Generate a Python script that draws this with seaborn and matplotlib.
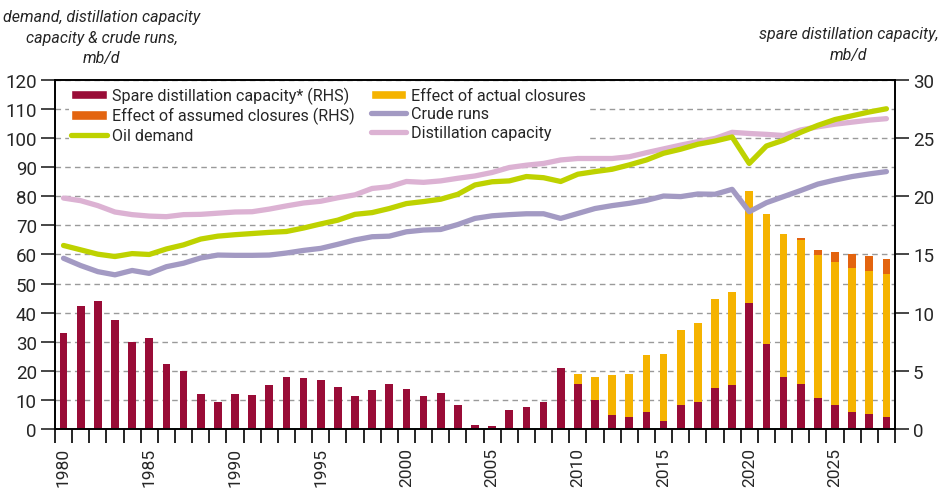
import numpy as np
import pandas as pd
import matplotlib
matplotlib.use("Agg")
import matplotlib.pyplot as plt
from matplotlib.patches import Patch
from matplotlib.lines import Line2D
import seaborn as sns

# ---- data -------------------------------------------------------------
years = list(range(1980, 2029))

# spare distillation capacity, mb/d (right-hand scale)
spare = [8.25, 10.6, 11.0, 9.35, 7.5, 7.85, 5.6, 5.0, 3.0, 2.35,
         3.0, 2.95, 3.75, 4.45, 4.4, 4.2, 3.64, 2.84, 3.35, 3.87,
         3.44, 2.87, 3.1, 2.06, 0.37, 0.26, 1.6, 1.9, 2.3, 5.2,
         3.84, 2.48, 1.24, 1.07, 1.44, 0.72, 2.05, 2.31, 3.49, 3.78,
         10.85, 7.33, 4.47, 3.9, 2.66, 2.05, 1.5, 1.3, 1.04]

# effect of actual closures, mb/d (stacked on spare capacity)
actual_closures = [0.0] * 30 + [
    0.86, 1.96, 3.38, 3.63, 4.94, 5.69, 6.43, 6.84, 7.68, 7.99,
    9.58, 11.14, 12.33, 12.32, 12.29, 12.29, 12.32, 12.32, 12.32]

# effect of assumed closures, mb/d (stacked on top)
assumed_closures = [0.0] * 43 + [0.23, 0.46, 0.84, 1.18, 1.21, 1.21]

# mb/d (left-hand scale)
oil_demand = [63.1, 61.6, 60.1, 59.3, 60.3, 60.0, 61.9, 63.3, 65.3, 66.3,
              66.8, 67.2, 67.6, 67.9, 69.1, 70.5, 71.8, 73.8, 74.4, 75.8,
              77.5, 78.2, 79.0, 80.7, 83.9, 85.0, 85.3, 86.8, 86.4, 85.1,
              87.6, 88.5, 89.3, 90.8, 92.5, 94.8, 96.2, 97.9, 99.0, 100.4,
              91.3, 97.3, 99.3, 102.0, 104.4, 106.4, 107.7, 109.0, 110.1]

crude_runs = [58.7, 56.2, 54.1, 53.0, 54.5, 53.5, 55.8, 57.0, 58.8, 59.8,
              59.7, 59.7, 59.8, 60.5, 61.4, 62.1, 63.5, 65.0, 66.1, 66.3,
              67.8, 68.4, 68.6, 70.3, 72.4, 73.3, 73.7, 74.0, 74.0, 72.4,
              74.1, 75.8, 76.8, 77.6, 78.6, 80.1, 79.9, 80.8, 80.7, 82.4,
              74.7, 77.8, 79.9, 82.0, 84.2, 85.6, 86.8, 87.7, 88.5]

distillation_capacity = [79.4, 78.5, 76.8, 74.6, 73.7, 73.2, 73.0, 73.7, 73.8, 74.2,
                         74.6, 74.7, 75.6, 76.7, 77.7, 78.3, 79.5, 80.5, 82.7, 83.3,
                         85.1, 84.8, 85.3, 86.2, 87.0, 88.2, 89.9, 90.7, 91.3, 92.5,
                         93.0, 93.0, 93.0, 93.6, 95.0, 96.3, 97.6, 98.8, 99.9, 102.0,
                         101.6, 101.3, 100.9, 102.8, 103.9, 104.8, 105.5, 106.2, 106.7]

label_years = [1980, 1985, 1990, 1995, 2000, 2005, 2010, 2015, 2020, 2025]

# ---- style ------------------------------------------------------------
C_SPARE = "#990c37"
C_ACTUAL = "#f5b300"
C_ASSUMED = "#e3640f"
C_DEMAND = "#bed200"
C_RUNS = "#a39ac3"
C_CAP = "#dcb2d3"
GRID = "#9a9a9a"

sns.set_theme(style="white")
plt.rcParams["font.family"] = ["Roboto", "DejaVu Sans"]
plt.rcParams["axes.edgecolor"] = "black"

df = pd.DataFrame({
    "pos": np.arange(len(years)),
    "year": years,
    "spare": spare,
    "actual": actual_closures,
    "assumed": assumed_closures,
    "demand": oil_demand,
    "runs": crude_runs,
    "capacity": distillation_capacity,
})
df["top_actual"] = df["spare"] + df["actual"]
df["top_assumed"] = df["top_actual"] + df["assumed"]

fig = plt.figure(figsize=(9.41, 4.89), dpi=100)
ax_bar = fig.add_axes([0.0584, 0.1207, 0.8927, 0.7137])
ax_line = ax_bar.twinx()

# ---- stacked bars (right-hand scale) ---------------------------------
bw = 0.45
sns.barplot(data=df, x="pos", y="top_assumed", color=C_ASSUMED, width=bw,
            saturation=1, native_scale=True, ax=ax_bar, edgecolor="none")
sns.barplot(data=df, x="pos", y="top_actual", color=C_ACTUAL, width=bw,
            saturation=1, native_scale=True, ax=ax_bar, edgecolor="none")
sns.barplot(data=df, x="pos", y="spare", color=C_SPARE, width=bw,
            saturation=1, native_scale=True, ax=ax_bar, edgecolor="none")

# ---- lines (left-hand scale) -----------------------------------------
for col, c in [("capacity", C_CAP), ("runs", C_RUNS), ("demand", C_DEMAND)]:
    sns.lineplot(data=df, x="pos", y=col, color=c, linewidth=3.8, ax=ax_line,
                 solid_capstyle="round", solid_joinstyle="round")

# put the line axes on top, keep the bar axes (with grid) underneath
ax_line.set_zorder(ax_bar.get_zorder() + 1)
ax_line.patch.set_visible(False)

# the left axis shows the line scale, the right one the bar scale
ax_line.yaxis.tick_left()
ax_line.yaxis.set_label_position("left")
ax_bar.yaxis.tick_right()
ax_bar.yaxis.set_label_position("right")

ax_line.set_ylim(0, 120)
ax_line.set_yticks(np.arange(0, 121, 10))
ax_bar.set_ylim(0, 30)
ax_bar.set_yticks(np.arange(0, 31, 5))
ax_bar.set_yticks(np.arange(0, 30.1, 2.5), minor=True)
ax_bar.grid(which="minor", axis="y", color=GRID, linestyle=(0, (4, 3)), linewidth=1.0)
ax_bar.grid(which="major", axis="y", color=GRID, linestyle=(0, (4, 3)), linewidth=1.0)
ax_bar.set_axisbelow(True)

xmin, xmax = -0.5, len(years) - 0.5
for a in (ax_bar, ax_line):
    a.set_xlim(xmin, xmax)
    a.set_xlabel("")
    a.set_ylabel("")
    for s in a.spines.values():
        s.set_color("black")
        s.set_linewidth(1.2)

# x ticks: boundaries as tick marks, labels every five years
ax_bar.set_xticks(np.arange(xmin, xmax + 0.01, 1.0), minor=True)
ax_bar.set_xticks([years.index(y) for y in label_years])
ax_bar.set_xticklabels([str(y) for y in label_years], rotation=90, fontsize=12.5)
ax_bar.tick_params(axis="x", which="major", length=0, pad=13)
ax_bar.tick_params(axis="x", which="minor", length=10, width=1.2, color="black", bottom=True)
ax_line.tick_params(axis="x", which="both", bottom=False, labelbottom=False)

ax_line.tick_params(axis="y", which="major", length=10, width=1.2, labelsize=13.5, pad=3,
                    left=True, right=False, labelleft=True, labelright=False)
ax_bar.tick_params(axis="y", which="major", length=10, width=1.2, labelsize=13.5, pad=3,
                   right=True, left=False, labelright=True, labelleft=False)
ax_bar.tick_params(axis="y", which="minor", length=0, right=False, left=False)

# ---- legend ------------------------------------------------------------
handles = [
    Patch(facecolor=C_SPARE, label="Spare distillation capacity* (RHS)"),
    Patch(facecolor=C_ASSUMED, label="Effect of assumed closures (RHS)"),
    Line2D([0], [0], color=C_DEMAND, lw=3.8, solid_capstyle="round", label="Oil demand"),
    Patch(facecolor=C_ACTUAL, label="Effect of actual closures"),
    Line2D([0], [0], color=C_RUNS, lw=3.8, solid_capstyle="round", label="Crude runs"),
    Line2D([0], [0], color=C_CAP, lw=3.8, solid_capstyle="round", label="Distillation capacity"),
]
leg = ax_line.legend(handles=handles, ncol=2, loc="upper left",
                     bbox_to_anchor=(0.012, 1.0), fontsize=11.6, frameon=True,
                     facecolor="white", edgecolor="none", framealpha=1,
                     handlelength=2.2, handleheight=0.5, handletextpad=0.3,
                     columnspacing=1.0, labelspacing=0.22, borderpad=0.15,
                     borderaxespad=0.25, fancybox=False)

# ---- axis titles -------------------------------------------------------
fig.text(102 / 941, 1 - 38 / 489, "demand, distillation capacity\ncapacity & crude runs,\nmb/d",
         ha="center", va="center", fontsize=11.5, style="italic", linespacing=1.45)
fig.text(849 / 941, 1 - 45 / 489, "spare distillation capacity,\nmb/d",
         ha="center", va="center", fontsize=11.5, style="italic", linespacing=1.45)

fig.savefig("out.png", dpi=100)
